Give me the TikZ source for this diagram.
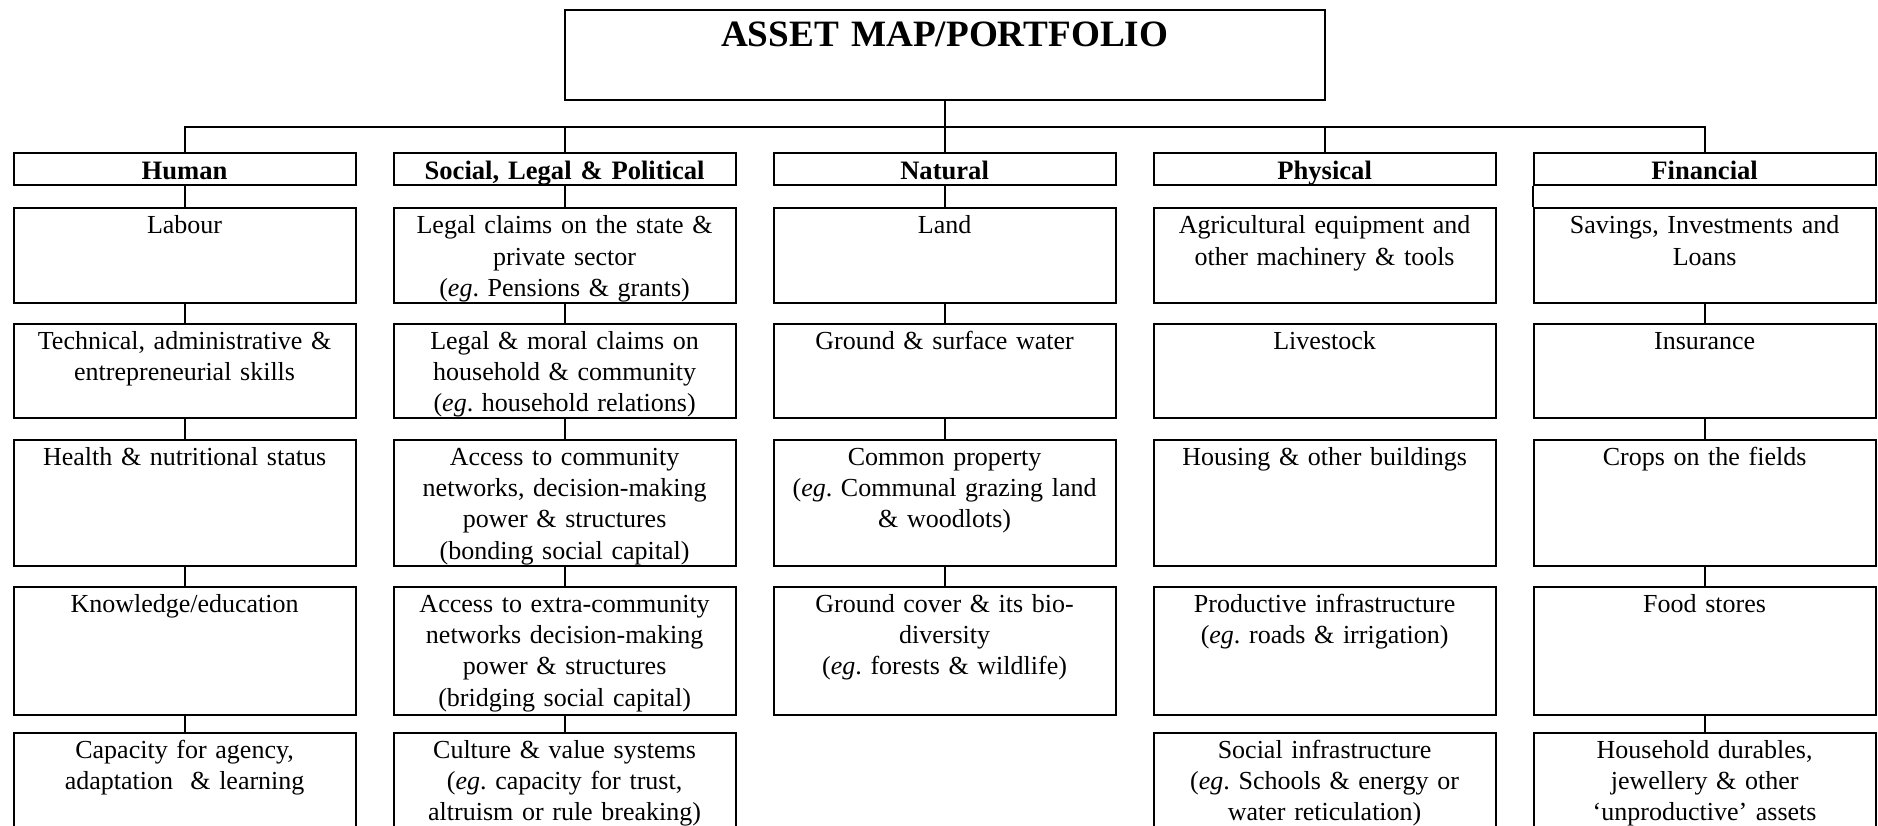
\documentclass[tikz,border=0pt]{standalone}
\usepackage{fontspec}
\setmainfont{Liberation Serif}
\frenchspacing

\begin{document}
\begin{tikzpicture}[
  every node/.style={draw=black, anchor=north},
  line width=1pt, inner xsep=2pt, inner ysep=0pt,
  text width=167pt, align=center,
  font=\fontsize{13}{15.7}\selectfont, text height=12.8pt,
  level 1/.style={sibling distance=190pt, level distance=48.5pt,
    font=\fontsize{13.3}{16}\selectfont\bfseries, text height=13.2pt, text depth=2.8pt,
    edge from parent path={(\tikzparentnode.south) -- ++(0,-13pt) -| (\tikzchildnode.north)}},
  level 2/.style={level distance=19pt, font=\fontsize{13}{15.7}\selectfont,
    text height=12.8pt, text depth=34.7pt,
    edge from parent path={(\tikzparentnode) -- (\tikzchildnode)}},
  level 3/.style={level distance=33.5pt, text depth=34.2pt},
  level 4/.style={level distance=34pt, text depth=50.2pt},
  level 5/.style={level distance=41.5pt, text depth=51.2pt},
  level 6/.style={level distance=40.5pt, text depth=47.2pt}
]
\useasboundingbox (0,0) rectangle (939pt,-412.5pt);
\clip (0,0) rectangle (939pt,-412.5pt);
\fill[white] (0,0) rectangle (939pt,-412.5pt);

\node (root) at (472.3pt,-4.5pt) [text width=376pt, font=\fontsize{18.6}{22}\selectfont\bfseries,
  text height=18pt, text depth=27pt] {ASSET MAP/PORTFOLIO}
  child { node (hum) {Human}
    child { node (hum1) {Labour}
      child { node (hum2) {Technical, administrative \&\\ entrepreneurial skills}
        child { node (hum3) {Health \& nutritional status}
          child { node (hum4) {Knowledge/education}
            child { node (hum5) {Capacity for agency,\\ adaptation~~\& learning} }
          }
        }
      }
    }
  }
  child { node (soc) {Social, Legal \& Political}
    child { node (soc1) {Legal claims on the state \&\\ private sector\\ (\textit{eg}. Pensions \& grants)}
      child { node (soc2) {Legal \& moral claims on\\ household \& community\\ (\textit{eg}. household relations)}
        child { node (soc3) {Access to community\\ networks, decision-making\\ power \& structures\\ (bonding social capital)}
          child { node (soc4) {Access to extra-community\\ networks decision-making\\ power \& structures\\ (bridging social capital)}
            child { node (soc5) {Culture \& value systems\\ (\textit{eg}. capacity for trust,\\ altruism or rule breaking)} }
          }
        }
      }
    }
  }
  child { node (nat) {Natural}
    child { node (nat1) {Land}
      child { node (nat2) {Ground \& surface water}
        child { node (nat3) {Common property\\ (\textit{eg}. Communal grazing land\\ \& woodlots)}
          child { node (nat4) {Ground cover \& its bio-\\ diversity\\ (\textit{eg}. forests \& wildlife)} }
        }
      }
    }
  }
  child { node (phy) {Physical}
    child { node (phy1) {Agricultural equipment and\\ other machinery \& tools}
      child { node (phy2) {Livestock}
        child { node (phy3) {Housing \& other buildings}
          child { node (phy4) {Productive infrastructure\\ (\textit{eg}. roads \& irrigation)}
            child { node (phy5) {Social infrastructure\\ (\textit{eg}. Schools \& energy or\\ water reticulation)}
              edge from parent[draw=none] }
            edge from parent[draw=none] }
          edge from parent[draw=none] }
        edge from parent[draw=none] }
      edge from parent[draw=none] }
  }
  child { node (fin) {Financial}
    child { node (fin1) {Savings, Investments and\\ Loans}
      child { node (fin2) {Insurance}
        child { node (fin3) {Crops on the fields}
          child { node (fin4) {Food stores}
            child { node (fin5) {Household durables,\\ jewellery \& other\\ ‘unproductive’ assets} }
          }
        }
      }
      edge from parent[draw=none] }
  };

% financial link runs down the left edge
\draw (fin.south west) -- (fin1.north west);
\end{tikzpicture}
\end{document}
